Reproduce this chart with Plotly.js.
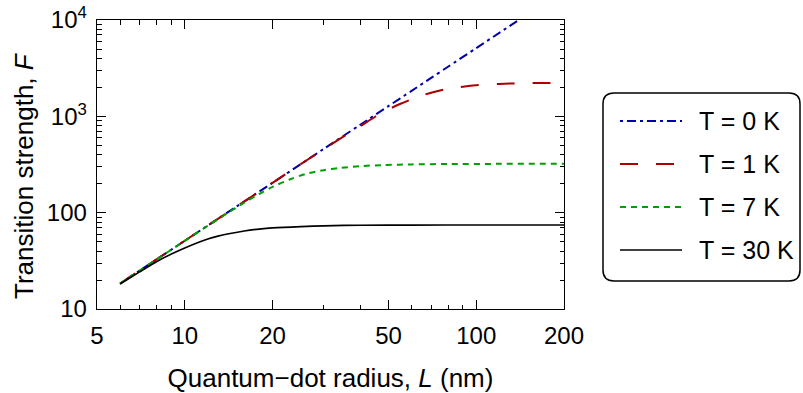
<!DOCTYPE html>
<html>
<head>
<meta charset="utf-8">
<script src="https://cdn.plot.ly/plotly-3.0.1.min.js"></script>
<style>html,body{margin:0;padding:0;background:#fff;}#chart{width:803px;height:393px;}</style>
</head>
<body>
<div id="chart"></div>
<script>
// ---- data ----
var L_0K = [6, 8, 10, 12, 15, 20, 25, 30, 40, 50, 60, 70, 80, 100, 120, 140];
var F_0K = [18.4, 32.7, 51.1, 73.6, 115, 204, 319, 460, 818, 1278, 1840, 2504, 3271, 5111, 7360, 10018];

var L_1K = [6, 8, 10, 12, 15, 20, 25, 30, 35, 40, 45, 50, 55, 60, 65, 70, 78, 90, 105, 120, 140, 170, 200];
var F_1K = [18.4, 32.7, 51.1, 73.6, 115, 204, 319, 456, 615, 790, 990, 1180, 1350, 1500, 1640, 1760, 1900, 2025, 2125, 2170, 2200, 2220, 2228];

var L_7K = [6, 8, 10, 12, 14, 16, 18, 20, 23, 26, 30, 34, 40, 48, 60, 80, 120, 200];
var F_7K = [18.4, 32.7, 51.0, 73.2, 98.8, 127, 156, 185, 222, 252, 276, 291, 304, 312, 317, 320, 321, 321];

var L_30K = [6, 7, 8, 9, 10, 11, 12, 13, 14, 16, 18, 20, 25, 30, 40, 60, 100, 200];
var F_30K = [18.2, 24.3, 31.0, 37.2, 43.0, 48.5, 53.3, 57.0, 60.0, 64.5, 67.5, 69.5, 71.8, 73.0, 74.0, 74.4, 74.5, 74.5];

var seriesNames = ["T = 0 K", "T = 1 K", "T = 7 K", "T = 30 K"];

var xTickVals = [5, 10, 20, 50, 100, 200];
var xTickText = ["5", "10", "20", "50", "100", "200"];
var xMinorVals = [6, 7, 8, 9, 30, 40, 60, 70, 80, 90];

var yTickVals = [10, 100, 1000, 10000];
var yTickText = ["10", "100", "10<sup>3</sup>", "10<sup>4</sup>"];
var yMinorVals = [20, 30, 40, 50, 60, 70, 80, 90, 200, 300, 400, 500, 600, 700, 800, 900,
                  2000, 3000, 4000, 5000, 6000, 7000, 8000, 9000];

var xTitle = "Quantum\u2212dot radius, <i>L</i> (nm)";
var yTitle = "Transition strength, <i>F</i>";

// ---- styles ----
var colors = ["#0000aa", "#aa0000", "#00a000", "#000000"];
var dashes = ["3px,4px,9px,4px", "18px,18px", "6px,5px", "solid"];
var widths = [2, 2, 2, 1.7];
var FONT = "Liberation Sans, Arial, sans-serif";

var xs = [L_0K, L_1K, L_7K, L_30K];
var ys = [F_0K, F_1K, F_7K, F_30K];
var traces = [];
for (var i = 0; i < 4; i++) {
  traces.push({
    x: xs[i], y: ys[i], type: "scatter", mode: "lines", name: seriesNames[i],
    line: {color: colors[i], dash: dashes[i], width: widths[i], shape: "spline", smoothing: 0.8},
    showlegend: false, hoverinfo: "skip"
  });
}

// plot-area geometry in pixels
var W = 803, H = 393;
var mL = 97, mR = 239, mT = 20, mB = 84;
var pw = W - mL - mR, ph = H - mT - mB;
function px(x) { return (x - mL) / pw; }
function py(y) { return (H - mB - y) / ph; }

// legend (rounded box, samples, labels)
var bx0 = 603, bx1 = 800, by0 = 93, by1 = 281, r = 11;
function P(x, y) { return px(x) + "," + py(y); }
var boxPath = "M" + P(bx0 + r, by0) + " L" + P(bx1 - r, by0) + " Q" + P(bx1, by0) + " " + P(bx1, by0 + r) +
  " L" + P(bx1, by1 - r) + " Q" + P(bx1, by1) + " " + P(bx1 - r, by1) +
  " L" + P(bx0 + r, by1) + " Q" + P(bx0, by1) + " " + P(bx0, by1 - r) +
  " L" + P(bx0, by0 + r) + " Q" + P(bx0, by0) + " " + P(bx0 + r, by0) + " Z";

var shapes = [{type: "path", xref: "paper", yref: "paper", path: boxPath,
  line: {color: "#000", width: 1.5}, fillcolor: "rgba(255,255,255,0)"}];
var annotations = [];
var rowY = [121, 164, 207, 250];
for (var k = 0; k < 4; k++) {
  shapes.push({type: "line", xref: "paper", yref: "paper",
    x0: px(620), x1: px(682), y0: py(rowY[k]), y1: py(rowY[k]),
    line: {color: colors[k], dash: dashes[k], width: widths[k]}});
  annotations.push({xref: "paper", yref: "paper", x: px(697), y: py(rowY[k]),
    xanchor: "left", yanchor: "middle", showarrow: false, text: seriesNames[k],
    font: {family: FONT, size: 25, color: "#000"}});
}
// y-axis title (placed as in the reference, slightly below the plot's centre)
annotations.push({xref: "paper", yref: "paper", x: px(24), y: py(176), xanchor: "center", yanchor: "middle",
  textangle: -90, showarrow: false, text: yTitle, font: {family: FONT, size: 26, color: "#000"}});

var axisCommon = {
  type: "log", showgrid: false, zeroline: false, showline: true, linecolor: "#000", linewidth: 1.3,
  mirror: "allticks", ticks: "inside", ticklen: 9, tickwidth: 1.2, tickcolor: "#000",
  tickfont: {family: FONT, size: 24, color: "#000"}
};

var layout = {
  width: W, height: H,
  margin: {l: mL, r: mR, t: mT, b: mB, pad: 0},
  paper_bgcolor: "#fff", plot_bgcolor: "#fff",
  showlegend: false,
  xaxis: Object.assign({}, axisCommon, {
    range: [Math.log10(5), Math.log10(200)], tickmode: "array", tickvals: xTickVals, ticktext: xTickText,
    ticklabelstandoff: 5,
    minor: {tickmode: "array", tickvals: xMinorVals, ticks: "inside", ticklen: 4.5, tickwidth: 1, tickcolor: "#000", showgrid: false},
    title: {text: xTitle, font: {family: FONT, size: 26, color: "#000"}, standoff: 21}
  }),
  yaxis: Object.assign({}, axisCommon, {
    range: [1, 4], tickmode: "array", tickvals: yTickVals, ticktext: yTickText,
    ticklabelstandoff: 4,
    minor: {tickmode: "array", tickvals: yMinorVals, ticks: "inside", ticklen: 4.5, tickwidth: 1, tickcolor: "#000", showgrid: false}
  }),
  shapes: shapes,
  annotations: annotations
};

Plotly.newPlot("chart", traces, layout, {staticPlot: true, displayModeBar: false});
</script>
</body>
</html>
